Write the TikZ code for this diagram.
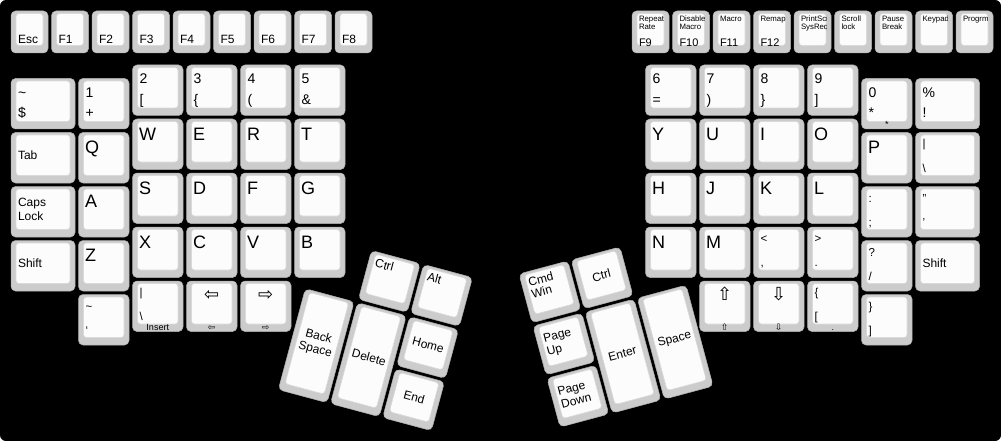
\documentclass[tikz,border=0pt]{standalone}
\usepackage{fontspec}
\setmainfont{Liberation Sans}
\newfontfamily\arrowfont{DejaVu Sans}
\definecolor{keygray}{HTML}{CCCCCC}
\definecolor{keyedge}{HTML}{B0B0B0}
\definecolor{keytop}{HTML}{FCFCFC}
\definecolor{keytopedge}{HTML}{DADADA}
\tikzset{
  kout/.style={fill=keygray,draw=keyedge,line width=0.5pt,rounded corners=4.5pt},
  kin/.style={fill=keytop,draw=keytopedge,line width=0.6pt,rounded corners=3pt},
  lbl/.style={inner sep=0pt,outer sep=0pt,text=black},
  fbig/.style={font=\fontsize{18}{20}\selectfont},
  fnum/.style={font=\fontsize{14}{15}\selectfont},
  fpun/.style={font=\fontsize{11.5}{13}\selectfont},
  fsm/.style={font=\fontsize{12}{13.3}\selectfont},
  ftiny/.style={font=\fontsize{7.8}{8.5}\selectfont},
  ffn/.style={font=\fontsize{11}{12}\selectfont},
  ffront/.style={font=\fontsize{9}{10}\selectfont},
  farrow/.style={font=\arrowfont\fontsize{18}{19}\selectfont},
  farrows/.style={font=\arrowfont\fontsize{9}{10}\selectfont},
}
% key: x y w h (outer, px)
\newcommand\K[4]{\edef\kx{#1}\edef\ky{#2}\edef\kw{#3}\edef\kh{#4}%
  \path[kout] (\kx,\ky) rectangle ({\kx+\kw},{\ky+\kh});
  \path[kin] ({\kx+5},{\ky+2.5}) rectangle ({\kx+\kw-5},{\ky+\kh-7.5});}
\newcommand\KU[4]{\pgfmathsetmacro\ux{11+#1*54}\pgfmathsetmacro\uy{11+#2*54}%
  \pgfmathsetmacro\uw{#3*54-3.5}\pgfmathsetmacro\uh{#4*54-3.5}\K{\ux}{\uy}{\uw}{\uh}}
\newcommand\KF[1]{\pgfmathsetmacro\ux{11+#1*54}\K{\ux}{11}{37}{42}}
\newcommand\KT[3]{\pgfmathsetmacro\ux{#1*54}\pgfmathsetmacro\uy{#2*54}%
  \pgfmathsetmacro\uh{#3*54-3.5}\K{\ux}{\uy}{50.5}{\uh}}
% legends
\newcommand\Lbig[1]{\node[lbl,fbig,anchor=base west] at ({\kx+6.5},{\ky+21}) {#1};}
\newcommand\Ltop[1]{\node[lbl,fnum,anchor=base west] at ({\kx+7},{\ky+19}) {#1};}
\newcommand\Lbot[1]{\node[lbl,fnum,anchor=base west] at ({\kx+7},{\ky+39.5}) {#1};}
\newcommand\Ptop[1]{\node[lbl,fpun,anchor=base west] at ({\kx+7},{\ky+15.5}) {#1};}
\newcommand\Pbot[1]{\node[lbl,fpun,anchor=base west] at ({\kx+7},{\ky+39.5}) {#1};}
\newcommand\Lcl[1]{\node[lbl,fsm,anchor=west,align=left] at ({\kx+7},{\ky+(\kh-5)/2}) {#1};}
\newcommand\Lcc[1]{\node[lbl,fsm,anchor=center,align=center] at ({\kx+\kw/2},{\ky+(\kh-5)/2}) {#1};}
\newcommand\Ltc[1]{\node[lbl,farrow,anchor=base] at ({\kx+\kw/2},{\ky+19}) {#1};}
\newcommand\Lfr[2][ffront]{\node[lbl,#1,anchor=base] at ({\kx+\kw/2},{\ky+\kh-1}) {#2};}
\newcommand\Lfk[1]{\node[lbl,fsm,anchor=base west] at ({\kx+7},{\ky+32.3}) {#1};}
\newcommand\Lfn[1]{\node[lbl,ffn,anchor=base west] at ({\kx+7},{\ky+35.5}) {#1};}
\newcommand\Lfs[2]{\begin{scope}
  \clip ({\kx+5},{\ky+2.5}) rectangle ({\kx+\kw-5},{\ky+\kh-7.5});
  \node[lbl,ftiny,anchor=base west] at ({\kx+7},{\ky+10.5}) {#1};
  \node[lbl,ftiny,anchor=base west] at ({\kx+7},{\ky+19}) {#2};
  \end{scope}}
\newcommand\Lfo[1]{\begin{scope}
  \clip ({\kx+5},{\ky+2.5}) rectangle ({\kx+\kw-5},{\ky+\kh-7.5});
  \node[lbl,ftiny,anchor=base west] at ({\kx+7},{\ky+10.5}) {#1};
  \end{scope}}
\newcommand\Ttl[1]{\node[lbl,fsm,anchor=base west] at ({\kx+7},{\ky+15}) {#1};}
\newcommand\Ttll[2]{\node[lbl,fsm,anchor=base west] at ({\kx+7},{\ky+15}) {#1};
  \node[lbl,fsm,anchor=base west] at ({\kx+7},{\ky+27}) {#2};}
\begin{document}
\begin{tikzpicture}[x=1pt,y=-1pt]
\useasboundingbox (0,0) rectangle (1001,441);
\fill[white] (0,0) rectangle (1001,441);
\fill[black,rounded corners=6pt] (0,0) rectangle (1001,441);
% ---- function row left
\KF{0}\Lfk{Esc}
\KF{0.75}\Lfk{F1}
\KF{1.5}\Lfk{F2}
\KF{2.25}\Lfk{F3}
\KF{3}\Lfk{F4}
\KF{3.75}\Lfk{F5}
\KF{4.5}\Lfk{F6}
\KF{5.25}\Lfk{F7}
\KF{6}\Lfk{F8}
% ---- function row right
\KF{11.5}\Lfs{Repeat}{Rate}\Lfn{F9}
\KF{12.25}\Lfs{Disable}{Macro}\Lfn{F10}
\KF{13}\Lfo{Macro}\Lfn{F11}
\KF{13.75}\Lfo{Remap}\Lfn{F12}
\KF{14.5}\Lfs{PrintScr}{SysReq}
\KF{15.25}\Lfs{Scroll}{lock}
\KF{16}\Lfs{Pause}{Break}
\KF{16.75}\Lfo{Keypad}
\KF{17.5}\Lfo{Progrm}
% ---- left main block
\KU{0}{1.25}{1.25}{1}\Ltop{\textasciitilde}\Lbot{\$}
\KU{1.25}{1.25}{1}{1}\Ltop{1}\Lbot{+}
\KU{2.25}{1}{1}{1}\Ltop{2}\Lbot{[}
\KU{3.25}{1}{1}{1}\Ltop{3}\Lbot{\{}
\KU{4.25}{1}{1}{1}\Ltop{4}\Lbot{(}
\KU{5.25}{1}{1}{1}\Ltop{5}\Lbot{\&}
\KU{0}{2.25}{1.25}{1}\Lcl{Tab}
\KU{1.25}{2.25}{1}{1}\Lbig{Q}
\KU{2.25}{2}{1}{1}\Lbig{W}
\KU{3.25}{2}{1}{1}\Lbig{E}
\KU{4.25}{2}{1}{1}\Lbig{R}
\KU{5.25}{2}{1}{1}\Lbig{T}
\KU{0}{3.25}{1.25}{1}\Lcl{Caps\\Lock}
\KU{1.25}{3.25}{1}{1}\Lbig{A}
\KU{2.25}{3}{1}{1}\Lbig{S}
\KU{3.25}{3}{1}{1}\Lbig{D}
\KU{4.25}{3}{1}{1}\Lbig{F}
\KU{5.25}{3}{1}{1}\Lbig{G}
\KU{0}{4.25}{1.25}{1}\Lcl{Shift}
\KU{1.25}{4.25}{1}{1}\Lbig{Z}
\KU{2.25}{4}{1}{1}\Lbig{X}
\KU{3.25}{4}{1}{1}\Lbig{C}
\KU{4.25}{4}{1}{1}\Lbig{V}
\KU{5.25}{4}{1}{1}\Lbig{B}
\KU{1.25}{5.25}{1}{1}\Ptop{\textasciitilde}\Pbot{\symbol{"60}}
\KU{2.25}{5}{1}{1}\Ptop{|}\Pbot{\textbackslash}\Lfr{Insert}
\KU{3.25}{5}{1}{1}\Ltc{⇦}\Lfr[farrows]{⇦}
\KU{4.25}{5}{1}{1}\Ltc{⇨}\Lfr[farrows]{⇨}
% ---- right main block
\KU{11.75}{1}{1}{1}\Ltop{6}\Lbot{=}
\KU{12.75}{1}{1}{1}\Ltop{7}\Lbot{)}
\KU{13.75}{1}{1}{1}\Ltop{8}\Lbot{\}}
\KU{14.75}{1}{1}{1}\Ltop{9}\Lbot{]}
\KU{15.75}{1.25}{1}{1}\Ltop{0}\Lbot{*}\Lfr{*}
\KU{16.75}{1.25}{1.25}{1}\Ltop{\%}\Lbot{!}
\KU{11.75}{2}{1}{1}\Lbig{Y}
\KU{12.75}{2}{1}{1}\Lbig{U}
\KU{13.75}{2}{1}{1}\Lbig{I}
\KU{14.75}{2}{1}{1}\Lbig{O}
\KU{15.75}{2.25}{1}{1}\Lbig{P}
\KU{16.75}{2.25}{1.25}{1}\Ptop{|}\Pbot{\textbackslash}
\KU{11.75}{3}{1}{1}\Lbig{H}
\KU{12.75}{3}{1}{1}\Lbig{J}
\KU{13.75}{3}{1}{1}\Lbig{K}
\KU{14.75}{3}{1}{1}\Lbig{L}
\KU{15.75}{3.25}{1}{1}\Ptop{:}\Pbot{;}
\KU{16.75}{3.25}{1.25}{1}\Ptop{\symbol{"22}}\Pbot{\symbol{"27}}
\KU{11.75}{4}{1}{1}\Lbig{N}
\KU{12.75}{4}{1}{1}\Lbig{M}
\KU{13.75}{4}{1}{1}\Ptop{<}\Pbot{,}
\KU{14.75}{4}{1}{1}\Ptop{>}\Pbot{.}
\KU{15.75}{4.25}{1}{1}\Ptop{?}\Pbot{/}
\KU{16.75}{4.25}{1.25}{1}\Lcl{Shift}
\KU{12.75}{5}{1}{1}\Ltc{⇧}\Lfr[farrows]{⇧}
\KU{13.75}{5}{1}{1}\Ltc{⇩}\Lfr[farrows]{⇩}
\KU{14.75}{5}{1}{1}\Ptop{\{}\Pbot{[}\Lfr{.}
\KU{15.75}{5.25}{1}{1}\Ptop{\}}\Pbot{]}
% ---- left thumb cluster
\begin{scope}[shift={(371.5,250.5)},rotate=-15,transform shape]
\KT{0}{0}{1}\Ttl{Ctrl}
\KT{1}{0}{1}\Ttl{Alt}
\KT{-1}{1}{2}\Lcc{Back\\Space}
\KT{0}{1}{2}\Lcc{Delete}
\KT{1}{1}{1}\Lcc{Home}
\KT{1}{2}{1}\Lcc{End}
\end{scope}
% ---- right thumb cluster
\begin{scope}[shift={(519,274)},rotate=15,transform shape]
\KT{0}{0}{1}\Ttll{Cmd}{Win}
\KT{1}{0}{1}\Lcc{Ctrl}
\KT{0}{1}{1}\Lcl{Page\\Up}
\KT{0}{2}{1}\Lcl{Page\\Down}
\KT{1}{1}{2}\Lcc{Enter}
\KT{2}{1}{2}\Lcc{Space}
\end{scope}
\end{tikzpicture}
\end{document}
